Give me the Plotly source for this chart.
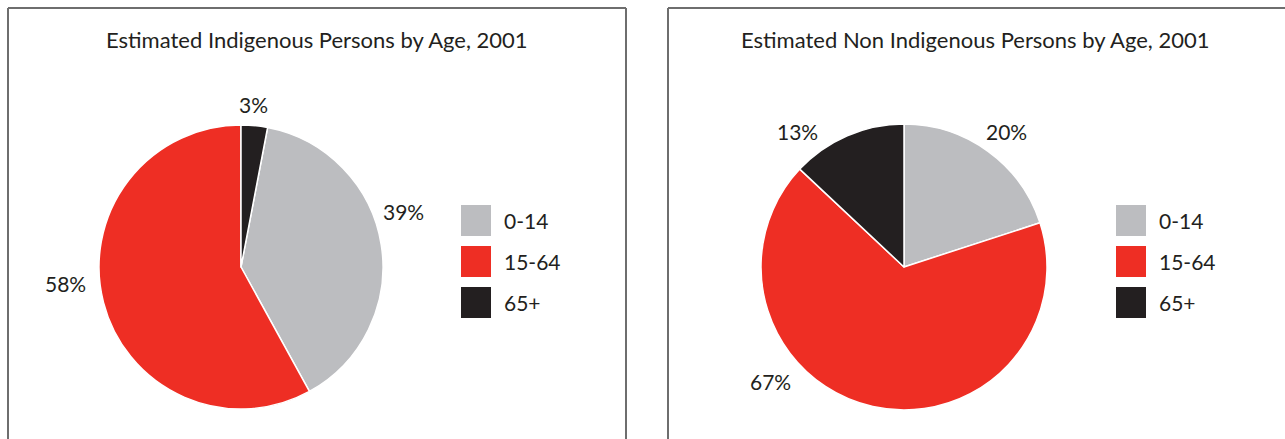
import plotly.graph_objects as go

# ---- data ----
categories = ["0-14", "15-64", "65+"]
indigenous_pct = [39, 58, 3]
non_indigenous_pct = [20, 67, 13]
titles = ["Estimated Indigenous Persons by Age, 2001",
          "Estimated Non Indigenous Persons by Age, 2001"]

colors = ["#BCBDC0", "#EE2E24", "#231F20"]
W, H = 1285, 439
FONT = "Gill Sans, Gill Sans MT, Lato, sans-serif"
TXT = "#231F20"


def px(x):
    return x / W


def py(y):
    return 1 - y / H


# pie geometry (pixels): center x, center y, radius
pies = [
    dict(vals=indigenous_pct, cx=241, cy=267, r=142, rot=360 * indigenous_pct[2] / 100,
         labels_at=[(403, 211), (65, 283), (253, 104)],
         legend_x=461, box=(8, 626), title_x=317),
    dict(vals=non_indigenous_pct, cx=904, cy=267, r=143, rot=0,
         labels_at=[(1006, 131), (770, 381), (797, 131)],
         legend_x=1116, box=(668, 1300), title_x=975),
]

fig = go.Figure()
shapes = []
annotations = []
for i, p in enumerate(pies):
    fig.add_trace(go.Pie(
        labels=categories, values=p["vals"], sort=False, direction="clockwise",
        rotation=p["rot"], textinfo="none", hoverinfo="label+percent",
        marker=dict(colors=colors, line=dict(color="white", width=1.5)),
        domain=dict(x=[px(p["cx"] - p["r"]), px(p["cx"] + p["r"])],
                    y=[py(p["cy"] + p["r"]), py(p["cy"] - p["r"])]),
        showlegend=False,
    ))
    # percentage labels
    for v, (lx, ly) in zip(p["vals"], p["labels_at"]):
        annotations.append(dict(x=px(lx), y=py(ly), xref="paper", yref="paper",
                                xanchor="center", yanchor="middle",
                                text=f"{v}%", showarrow=False,
                                font=dict(family=FONT, size=21, color=TXT)))
    # title
    annotations.append(dict(x=px(p["title_x"]), y=py(39), xref="paper", yref="paper",
                            xanchor="center", yanchor="middle",
                            text=titles[i], showarrow=False,
                            font=dict(family=FONT, size=22, color=TXT)))
    # legend
    for k, (cat, col) in enumerate(zip(categories, colors)):
        top = 205 + k * 41
        shapes.append(dict(type="rect", xref="paper", yref="paper",
                           x0=px(p["legend_x"]), x1=px(p["legend_x"] + 30),
                           y0=py(top + 31), y1=py(top), fillcolor=col,
                           line=dict(width=0)))
        annotations.append(dict(x=px(p["legend_x"] + 41), y=py(top + 15),
                                xref="paper", yref="paper",
                                xanchor="left", yanchor="middle",
                                text=cat, showarrow=False,
                                font=dict(family=FONT, size=21, color=TXT)))
    # panel frame
    bx0, bx1 = p["box"]
    for (x0, y0, x1, y1) in [(bx0, H + 5, bx0, 8), (bx0, 8, bx1, 8), (bx1, 8, bx1, H + 5)]:
        shapes.append(dict(type="line", xref="paper", yref="paper",
                           x0=px(x0), y0=py(y0), x1=px(x1), y1=py(y1),
                           line=dict(color="#6E6E6E", width=2)))

fig.update_layout(
    width=W, height=H, margin=dict(l=0, r=0, t=0, b=0),
    paper_bgcolor="white", plot_bgcolor="white",
    shapes=shapes, annotations=annotations, showlegend=False,
)
fig.write_html("out.html", config={"displayModeBar": False},
               post_script="document.body.style.margin='0';")
